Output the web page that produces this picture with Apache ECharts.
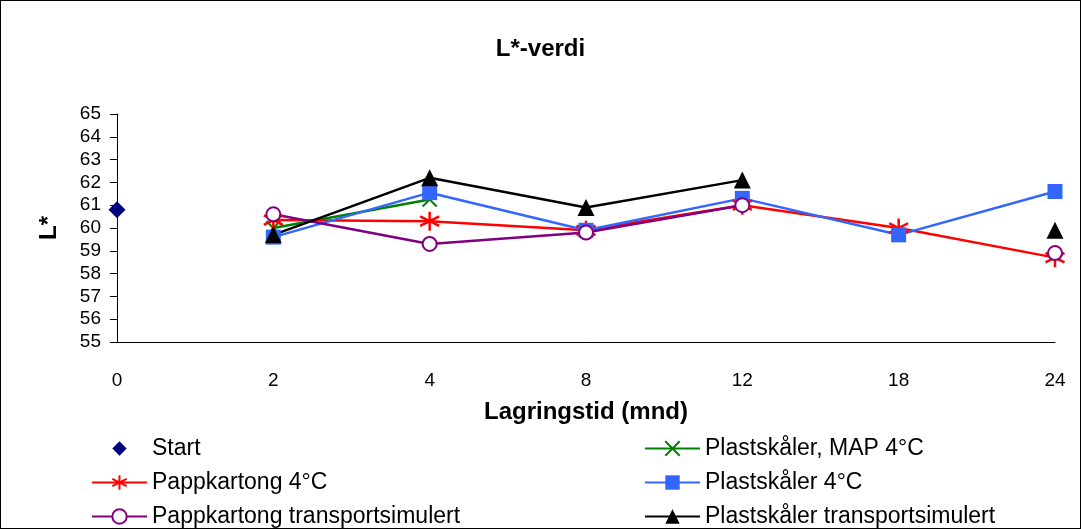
<!DOCTYPE html>
<html lang="no">
  <head>
    <meta charset="UTF-8" />
    <title>L*-verdi</title>
    <script src="https://cdn.jsdelivr.net/npm/echarts@6/dist/echarts.min.js"></script>
    <style>
      html, body { margin: 0; padding: 0; background: #fff; }
      #main { width: 1081px; height: 529px; box-sizing: border-box; border: 1px solid #000; }
    </style>
  </head>
  <body>
    <div id="main"></div>
    <script type="text/javascript">
      // Lagringstid (mnd)
      var months = ["0", "2", "4", "8", "12", "18", "24"];

      var start = [60.8, null, null, null, null, null, null];
      var plastMap = [null, 60.0, 61.25, null, null, null, null];
      var pappKald = [null, 60.35, 60.3, 59.9, 61.0, 60.0, 58.7];
      var plastKald = [null, 59.6, 61.55, 59.9, 61.3, 59.7, 61.6];
      var pappTransport = [null, 60.6, 59.3, 59.8, 61.0, null, 58.9];
      var plastTransport = [null, 59.7, 62.2, 60.9, 62.1, null, 59.9];

      // legend order: left column, right column
      var legendLeft = ["Start", "Pappkartong 4°C", "Pappkartong transportsimulert"];
      var legendRight = ["Plastskåler, MAP 4°C", "Plastskåler 4°C", "Plastskåler transportsimulert"];

      var font = "Liberation Sans, Arial, sans-serif";
      var asterisk = "path://M0,-1L0,1M-0.87,-0.5L0.87,0.5M-0.87,0.5L0.87,-0.5";
      var cross = "path://M-1,-1L1,1M-1,1L1,-1";

      var chartDom = document.getElementById("main");
      var myChart = echarts.init(chartDom);

      function lineSeries(name, data, color, symbol, size, extra) {
        var s = {
          name: name,
          type: "line",
          data: data,
          connectNulls: false,
          symbol: symbol,
          symbolSize: size,
          showAllSymbol: true,
          lineStyle: { color: color, width: 2.5 },
          itemStyle: { color: color },
          emphasis: { disabled: true },
          animation: false,
        };
        if (extra) Object.assign(s.itemStyle, extra);
        return s;
      }

      var legendText = { fontFamily: font, fontSize: 23, lineHeight: 22, color: "#000" };
      var rowTops = [436, 470, 504];
      var legends = [];
      function addLegends(names, left) {
        names.forEach(function (n, i) {
          legends.push({
            left: left,
            top: rowTops[i],
            padding: 0,
            itemWidth: 55,
            itemHeight: 18,
            textStyle: legendText,
            selectedMode: false,
            data: [n],
          });
        });
      }
      addLegends(legendLeft, 90);
      addLegends(legendRight, 643);

      var option = {
        animation: false,
        title: {
          text: "L*-verdi",
          left: "center",
          top: 31,
          textStyle: { fontFamily: font, fontSize: 24, fontWeight: "bold", color: "#000" },
        },
        grid: { left: 116, right: 25, top: 113, bottom: 186, containLabel: false },
        legend: legends,
        xAxis: {
          type: "category",
          data: months,
          boundaryGap: false,
          name: "Lagringstid (mnd)",
          nameLocation: "middle",
          nameGap: 58,
          nameTextStyle: { fontFamily: font, fontSize: 24, fontWeight: "bold", color: "#000" },
          axisLine: { lineStyle: { color: "#000", width: 1 } },
          axisTick: { show: false },
          axisLabel: { fontFamily: font, fontSize: 19, color: "#000", margin: 29 },
          splitLine: { show: false },
        },
        yAxis: {
          type: "value",
          min: 55,
          max: 65,
          interval: 1,
          name: "L*",
          nameLocation: "middle",
          nameGap: 56,
          nameTextStyle: { fontFamily: font, fontSize: 24, fontWeight: "bold", color: "#000" },
          axisLine: { show: true, lineStyle: { color: "#000", width: 1 } },
          axisTick: { show: true, length: 7, inside: false, lineStyle: { color: "#000" } },
          axisLabel: { fontFamily: font, fontSize: 19, color: "#000", margin: 16 },
          splitLine: { show: false },
        },
        series: [
          {
            name: "Start",
            type: "line",
            data: start,
            symbol: "diamond",
            symbolSize: 17,
            showAllSymbol: true,
            lineStyle: { opacity: 0 },
            itemStyle: { color: "#000080" },
            emphasis: { disabled: true },
          },
          lineSeries("Plastskåler, MAP 4°C", plastMap, "#008000", cross, 14, {
            color: "none",
            borderColor: "#008000",
            borderWidth: 2,
          }),
          lineSeries("Pappkartong 4°C", pappKald, "#FF0000", asterisk, 19, {
            color: "none",
            borderColor: "#FF0000",
            borderWidth: 2.5,
          }),
          lineSeries("Plastskåler 4°C", plastKald, "#3366FF", "rect", 15),
          lineSeries("Pappkartong transportsimulert", pappTransport, "#800080", "circle", 14, {
            color: "#fff",
            borderColor: "#800080",
            borderWidth: 2,
          }),
          lineSeries("Plastskåler transportsimulert", plastTransport, "#000000", "triangle", 17),
        ],
      };

      myChart.setOption(option);
    </script>
  </body>
</html>
